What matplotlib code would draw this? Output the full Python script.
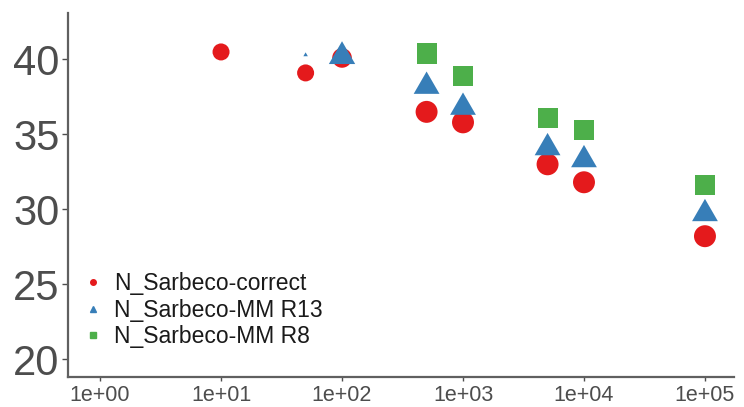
import matplotlib
matplotlib.use("Agg")
import matplotlib.pyplot as plt
from matplotlib.lines import Line2D

plt.rcParams['font.family'] = ['Liberation Sans', 'DejaVu Sans']

# dilution (x) vs Ct (y), marker size per point
x_correct = [10, 50, 100, 500, 1000, 5000, 10000, 100000]
y_correct = [40.5, 39.1, 40.1, 36.5, 35.8, 33.0, 31.8, 28.2]
s_correct = [150, 150, 200, 250, 250, 250, 250, 250]

x_r13 = [50, 100, 500, 1000, 5000, 10000, 100000]
y_r13 = [40.3, 40.2, 38.2, 36.8, 34.1, 33.3, 29.7]
s_r13 = [14, 480, 460, 460, 460, 460, 460]

x_r8 = [500, 1000, 5000, 10000, 100000]
y_r8 = [40.4, 38.9, 36.1, 35.3, 31.6]
s_r8 = [210, 210, 210, 210, 210]

labels = ['N_Sarbeco-correct', 'N_Sarbeco-MM R13', 'N_Sarbeco-MM R8']
colors = ['#E41A1C', '#377EB8', '#4DAF4A']
xticks = [1, 10, 100, 1000, 10000, 100000]
xticklabels = ['1e+00', '1e+01', '1e+02', '1e+03', '1e+04', '1e+05']
yticks = [20, 25, 30, 35, 40]

tri = [(0, 1.1547), (-1, -0.57735), (1, -0.57735), (0, 1.1547)]

px = 1 / 100
fig = plt.figure(figsize=(744 * px, 407 * px), dpi=100)
ax = fig.add_axes([68 / 744, 1 - 377 / 407, 666 / 744, 364 / 407])

ax.scatter(x_correct, y_correct, s=s_correct, c=colors[0], marker='o', linewidths=0)
ax.scatter(x_r13, y_r13, s=s_r13, c=colors[1], marker=tri, linewidths=0)
ax.scatter(x_r8, y_r8, s=s_r8, c=colors[2], marker='s', linewidths=0)

ax.set_xscale('log')
ax.set_xlim(10 ** -0.265, 10 ** 5.24)
ax.set_ylim(18.8, 43.1)
ax.set_xticks(xticks)
ax.set_xticklabels(xticklabels)
ax.minorticks_off()
ax.set_yticks(yticks)

for side in ['top', 'right']:
    ax.spines[side].set_visible(False)
for side in ['left', 'bottom']:
    ax.spines[side].set_color('#606060')
    ax.spines[side].set_linewidth(1.6)

ax.tick_params(axis='y', labelsize=30, colors='#4D4D4D', length=4, width=1, pad=2)
ax.tick_params(axis='x', labelsize=15.5, colors='#4D4D4D', length=3, width=1, pad=3)

handles = [
    Line2D([], [], linestyle='none', marker='o', markersize=4, color=colors[0]),
    Line2D([], [], linestyle='none', marker='^', markersize=4, color=colors[1]),
    Line2D([], [], linestyle='none', marker='s', markersize=4, color=colors[2]),
]
leg = ax.legend(handles, labels, loc='center left', bbox_to_anchor=(0.0, 0.184),
                frameon=False, fontsize=16.5, handlelength=1.2, handletextpad=0.3,
                labelspacing=0.15, borderaxespad=0.3, borderpad=0.2)
for t in leg.get_texts():
    t.set_color('#1A1A1A')

fig.savefig('out.png', dpi=100)
